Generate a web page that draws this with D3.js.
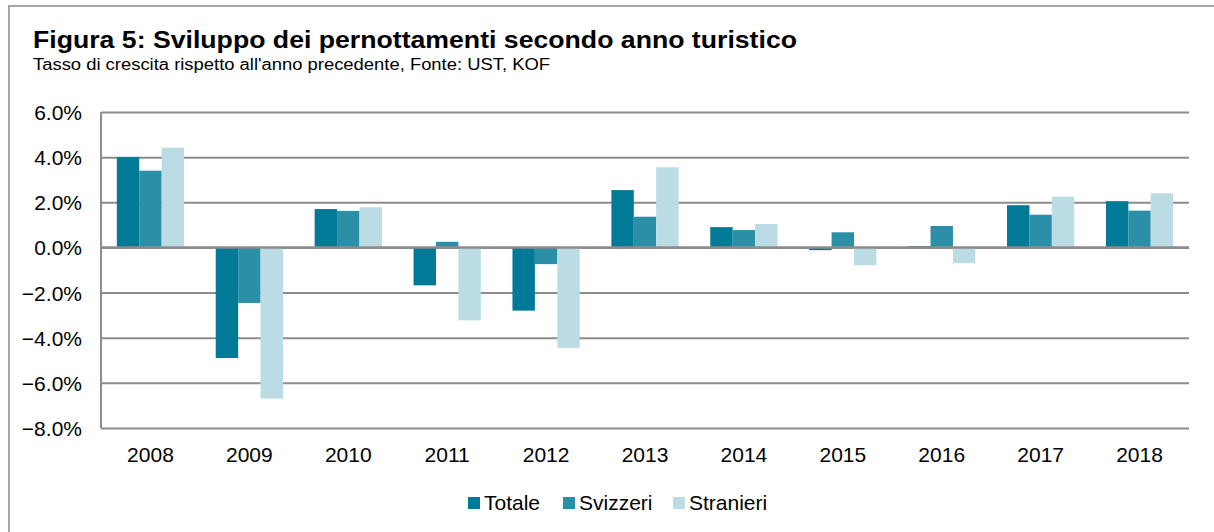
<!DOCTYPE html>
<html>
<head>
<meta charset="utf-8">
<script src="https://cdn.jsdelivr.net/npm/d3@7"></script>
<style>
  html, body { margin: 0; padding: 0; background: #fff; }
  svg { display: block; font-family: "Liberation Sans", Arial, sans-serif; }
</style>
</head>
<body>
<div id="chart"></div>
<script>
// Data
const years = ["2008", "2009", "2010", "2011", "2012", "2013", "2014", "2015", "2016", "2017", "2018"];
const seriesNames = ["Totale", "Svizzeri", "Stranieri"];
const totale = [4.0, -4.9, 1.7, -1.68, -2.8, 2.54, 0.9, -0.12, 0.06, 1.87, 2.05];
const svizzeri = [3.4, -2.46, 1.62, 0.25, -0.74, 1.36, 0.77, 0.67, 0.95, 1.45, 1.63];
const stranieri = [4.42, -6.7, 1.78, -3.23, -4.45, 3.55, 1.04, -0.79, -0.7, 2.25, 2.4];
const yTicks = [-8, -6, -4, -2, 0, 2, 4, 6];
const colors = ["#017A98", "#2A8FA7", "#BBDCE5"];

const values = [totale, svizzeri, stranieri];
const width = 1214;
const height = 532;
const margin = { left: 101, right: 25, top: 112, bottom: 104 };

const svg = d3
  .select("#chart")
  .append("svg")
  .attr("width", width)
  .attr("height", height);

// outer frame (top + left only)
svg
  .append("path")
  .attr("d", `M9,${height} V6 H${width}`)
  .attr("fill", "none")
  .attr("stroke", "#a6a6a6")
  .attr("stroke-width", 2);

// title texts are wider in the original, stretch them to fit
svg
  .append("text")
  .attr("x", 33)
  .attr("y", 48)
  .attr("font-size", 24)
  .attr("font-weight", "bold")
  .attr("fill", "#000")
  .attr("textLength", 764)
  .attr("lengthAdjust", "spacingAndGlyphs")
  .text("Figura 5: Sviluppo dei pernottamenti secondo anno turistico");

svg
  .append("text")
  .attr("x", 33)
  .attr("y", 70)
  .attr("font-size", 16)
  .attr("fill", "#000")
  .attr("textLength", 517)
  .attr("lengthAdjust", "spacingAndGlyphs")
  .text("Tasso di crescita rispetto all'anno precedente, Fonte: UST, KOF");

const xScale = d3
  .scaleBand()
  .domain(years)
  .range([margin.left, width - margin.right])
  .paddingInner(0.32)
  .paddingOuter(0.16);

const xInner = d3
  .scaleBand()
  .domain(seriesNames)
  .range([0, xScale.bandwidth()]);

const yScale = d3
  .scaleLinear()
  .domain([-8, 6])
  .range([height - margin.bottom, margin.top]);

// gridlines
const grid = svg
  .append("g")
  .attr("transform", `translate(${margin.left}, 0)`)
  .call(
    d3
      .axisLeft(yScale)
      .tickValues(yTicks)
      .tickSize(-(width - margin.left - margin.right))
      .tickFormat("")
  );
grid.select(".domain").remove();
grid.selectAll("line").attr("stroke", "#8c8c8c").attr("stroke-width", 2);

// y axis labels
const yAxis = svg
  .append("g")
  .attr("transform", `translate(${margin.left - 19}, 0)`)
  .call(
    d3
      .axisLeft(yScale)
      .tickValues(yTicks)
      .tickSize(0)
      .tickPadding(0)
      .tickFormat((d) => d3.format(".1f")(d) + "%")
  );
yAxis.select(".domain").remove();
yAxis
  .selectAll("text")
  .attr("font-family", "Liberation Sans, Arial, sans-serif")
  .attr("font-size", 21)
  .attr("fill", "#000")
  .attr("dy", "0.36em");

// bars
const groups = svg
  .append("g")
  .selectAll("g")
  .data(years)
  .join("g")
  .attr("transform", (d) => `translate(${xScale(d)}, 0)`);

groups
  .selectAll("rect")
  .data((d, i) => seriesNames.map((s, j) => ({ s, j, v: values[j][i] })))
  .join("rect")
  .attr("x", (d) => xInner(d.s))
  .attr("width", xInner.bandwidth())
  .attr("y", (d) => yScale(Math.max(0, d.v)))
  .attr("height", (d) => Math.abs(yScale(d.v) - yScale(0)))
  .attr("fill", (d) => colors[d.j]);

// zero line and left axis line
svg
  .append("line")
  .attr("x1", margin.left)
  .attr("x2", width - margin.right)
  .attr("y1", yScale(0))
  .attr("y2", yScale(0))
  .attr("stroke", "#8c8c8c")
  .attr("stroke-width", 2.5);

svg
  .append("line")
  .attr("x1", margin.left)
  .attr("x2", margin.left)
  .attr("y1", yScale(6))
  .attr("y2", yScale(-8))
  .attr("stroke", "#8c8c8c")
  .attr("stroke-width", 2);

// x axis labels
const xAxis = svg
  .append("g")
  .attr("transform", `translate(0, ${height - margin.bottom})`)
  .call(d3.axisBottom(xScale).tickSize(0).tickPadding(0));
xAxis.select(".domain").remove();
xAxis
  .selectAll("text")
  .attr("font-family", "Liberation Sans, Arial, sans-serif")
  .attr("font-size", 21)
  .attr("fill", "#000")
  .attr("dy", "34px");

// legend
const legendX = [468, 563, 673];
const legend = svg
  .append("g")
  .selectAll("g")
  .data(seriesNames)
  .join("g")
  .attr("transform", (d, i) => `translate(${legendX[i]}, 497)`);
legend
  .append("rect")
  .attr("width", 12)
  .attr("height", 12)
  .attr("fill", (d, i) => colors[i]);
legend
  .append("text")
  .attr("x", 16)
  .attr("y", 13)
  .attr("font-size", 21)
  .attr("fill", "#000")
  .text((d) => d);
</script>
</body>
</html>
